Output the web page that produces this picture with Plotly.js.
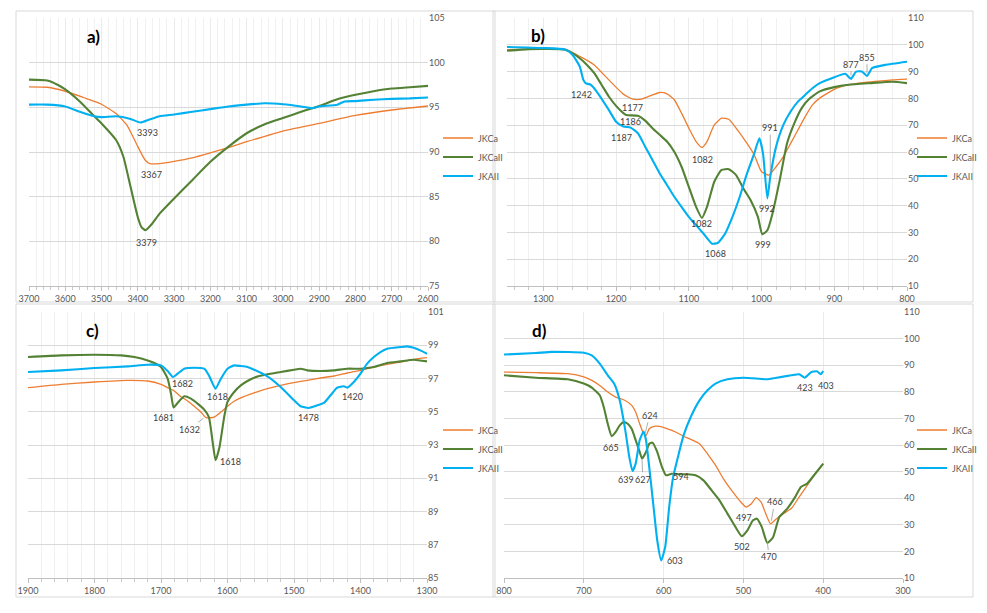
<!DOCTYPE html>
<html>
<head>
<meta charset="utf-8">
<script src="https://cdn.plot.ly/plotly-3.0.1.min.js"></script>
<style>html,body{margin:0;padding:0;background:#fff;}#chart{width:987px;height:613px;}</style>
</head>
<body>
<div id="chart"></div>
<script>
// ---------- Panel a (3700-2600 cm-1) ----------
const aCaX = [3700,3650,3600,3550,3500,3460,3430,3400,3380,3367,3340,3300,3250,3200,3150,3100,3000,2900,2800,2700,2600];
const aCaY = [97.3,97.25,96.8,96.1,95.35,94.3,93.0,90.6,89.1,88.7,88.7,88.95,89.35,89.9,90.5,91.15,92.35,93.2,94.1,94.7,95.15];
const aCaIIX = [3700,3650,3620,3600,3560,3520,3500,3460,3440,3420,3400,3390,3379,3360,3340,3300,3250,3200,3150,3100,3050,3000,2950,2900,2850,2800,2750,2700,2650,2600];
const aCaIIY = [98.1,98.0,97.5,97.0,95.65,94.0,93.2,91.35,89.5,86.1,82.7,81.6,81.25,82.0,83.1,84.8,86.85,88.9,90.6,92.1,93.1,93.8,94.5,95.15,95.9,96.4,96.8,97.1,97.25,97.4];
const aAIIX = [3700,3650,3600,3560,3520,3500,3460,3420,3393,3370,3340,3300,3250,3200,3150,3100,3050,3000,2950,2920,2900,2850,2830,2800,2750,2700,2650,2600];
const aAIIY = [95.3,95.3,95.1,94.5,94.0,93.9,94.0,93.7,93.3,93.6,94.0,94.2,94.5,94.8,95.1,95.3,95.45,95.35,95.1,94.9,95.1,95.3,95.65,95.7,95.85,95.95,96.0,96.1];
const aLabels = [["3393",3373,92.2],["3367",3362,87.5],["3379",3377,79.9]];

// ---------- Panel b (1350-800 cm-1) ----------
const bCaX = [1350,1270,1250,1230,1210,1190,1177,1165,1150,1140,1130,1120,1110,1100,1090,1082,1075,1065,1055,1045,1035,1020,1010,1000,990,980,970,960,950,940,930,920,900,880,860,840,820,800];
const bCaY = [98.2,98.2,95.7,92.5,86.9,81.6,79.7,79.7,81.3,82.2,81.7,79.5,74.5,68.9,63.9,61.7,63.9,70.1,72.6,72.2,68.9,63.2,58.9,52.6,51.4,54.5,58.3,63.2,68.2,73.2,77.6,80.1,83.4,85.1,85.9,86.4,86.9,87.2];
const bCaIIX = [1350,1320,1270,1260,1250,1240,1230,1220,1210,1200,1190,1186,1170,1160,1150,1140,1130,1120,1110,1100,1090,1082,1075,1065,1055,1045,1035,1025,1015,1005,999,992,985,975,965,955,945,935,920,900,880,850,820,800];
const bCaIIY = [97.8,98.4,98.2,96.9,95.0,92.5,89.4,85.1,80.7,77.2,74.5,73.8,73.5,71.7,68.9,66.4,63.9,60.1,54.5,47.0,39.5,35.4,39.5,48.9,53.3,53.6,51.4,46.4,42.0,35.8,29.3,30.8,37.0,49.5,63.2,70.7,76.3,79.7,82.6,84.2,85.1,85.7,86.2,85.7];
const bAIIX = [1350,1300,1270,1260,1250,1245,1242,1235,1225,1210,1200,1190,1180,1170,1160,1150,1140,1130,1120,1110,1100,1090,1080,1068,1060,1050,1040,1030,1020,1010,1003,998,992,988,980,970,960,950,940,930,920,900,885,877,870,862,855,848,830,800];
const bAIIY = [99.2,98.8,98.2,96.3,91.9,86.9,85.7,85.1,81.9,75.7,71.3,69.5,69.1,67.0,62.0,57.0,52.0,47.7,43.3,39.5,35.8,32.7,29.6,25.8,26.1,29.6,35.8,43.3,52.0,59.5,65.1,59.5,42.7,50.8,62.0,70.1,75.1,78.8,81.3,83.8,85.7,87.9,89.2,87.3,90.0,90.0,88.4,91.3,92.5,93.7];
const bLabels = [["1242",1247,81.6],["1177",1178,76.6],["1186",1180,71.3],["1187",1192,65.5],["1082",1081,57.3],["1082",1083,33.3],["1068",1064,22.1],["999",998,25.6],["992",993,39.1]];
const bLeaders = [["991",988,52.5,988,69.1],["877",877,88.5,877,92.8],["855",855,89.5,855,95.4]];

// ---------- Panel c (1900-1300 cm-1) ----------
const cCaX = [1900,1850,1800,1750,1720,1700,1690,1680,1670,1660,1650,1640,1632,1620,1610,1600,1590,1580,1560,1540,1520,1500,1480,1460,1440,1420,1400,1380,1360,1340,1320,1300];
const cCaY = [96.45,96.65,96.79,96.89,96.85,96.65,96.45,96.25,95.9,95.65,95.33,94.98,94.64,94.68,94.98,95.33,95.63,95.83,96.13,96.39,96.59,96.75,96.89,97.03,97.15,97.33,97.49,97.69,97.85,97.99,98.15,98.25];
const cCaIIX = [1900,1850,1800,1760,1740,1720,1710,1700,1690,1685,1681,1675,1665,1655,1645,1635,1628,1622,1618,1612,1605,1600,1590,1580,1570,1560,1540,1520,1500,1490,1480,1460,1440,1420,1400,1380,1360,1340,1320,1300];
const cCaIIY = [98.29,98.39,98.43,98.39,98.29,98.09,97.93,97.69,96.99,96.09,95.25,95.53,95.93,95.79,95.49,95.13,94.68,93.08,92.08,92.88,94.68,95.59,96.19,96.59,96.85,97.05,97.25,97.39,97.53,97.59,97.49,97.45,97.49,97.59,97.59,97.69,97.93,98.03,98.13,98.03];
const cAIIX = [1900,1850,1800,1750,1720,1700,1690,1682,1675,1665,1650,1635,1628,1618,1610,1600,1590,1580,1570,1560,1540,1520,1500,1490,1478,1465,1455,1445,1435,1425,1420,1410,1400,1390,1380,1370,1360,1340,1330,1320,1310,1300];
const cAIIY = [97.39,97.49,97.63,97.73,97.83,97.79,97.45,97.09,97.29,97.59,97.65,97.59,97.19,96.39,96.99,97.59,97.79,97.75,97.69,97.53,97.13,96.49,95.69,95.33,95.23,95.39,95.53,95.99,96.45,96.53,96.45,96.79,97.29,97.89,98.29,98.59,98.79,98.89,98.93,98.85,98.69,98.49];
const cLabels = [["1682",1667.6,96.69],["1618",1614.8,95.93],["1681",1696,94.68],["1618",1596,92.0],["1478",1477.8,94.66],["1420",1412.5,95.93]];
const cLeaders = [["1632",1636,94.62,1657.5,93.94]];

// ---------- Panel d (800-300 cm-1) ----------
const dCaX = [800,760,720,700,690,680,670,660,650,640,635,630,626,622,618,612,605,595,585,575,565,555,545,535,525,515,505,497,490,484,478,472,466,460,450,440,430,420,410,403,400];
const dCaY = [87.4,87.2,86.8,85.6,84.3,82.4,79.9,78.0,77.0,74.9,72.4,68.0,64.9,63.6,66.1,67.0,67.0,66.1,64.9,63.3,62.0,60.5,56.7,52.4,47.3,43.0,39.2,36.7,37.9,40.2,38.6,34.2,30.4,31.9,34.2,36.1,40.5,44.8,49.2,51.7,53.0];
const dCaIIX = [800,760,720,700,690,680,675,670,665,660,655,650,645,640,635,630,627,622,618,614,608,602,597,590,580,570,560,550,540,530,520,510,502,495,488,483,477,470,463,455,445,435,428,420,410,400];
const dCaIIY = [86.2,85.3,84.7,83.1,81.6,78.7,74.3,68.0,63.3,64.9,67.4,68.6,68.0,66.1,61.8,57.4,54.9,57.4,60.5,60.9,57.4,51.7,48.6,49.2,49.0,49.0,48.6,46.7,43.0,39.2,34.2,29.2,25.7,27.9,31.7,32.3,29.2,23.2,25.2,32.9,36.1,40.5,44.2,45.5,49.2,53.0];
const dAIIX = [800,760,740,700,690,680,670,662,655,648,643,639,635,630,625,622,618,613,608,603,598,593,588,582,575,565,555,545,535,520,500,480,470,460,440,430,423,415,408,403,400];
const dAIIY = [94.0,94.6,95.0,94.7,93.7,90.6,86.2,83.1,76.8,65.5,55.5,50.2,53.0,61.8,65.1,61.8,51.7,37.9,24.2,16.6,21.7,36.7,48.0,55.5,63.6,71.2,76.8,80.6,83.1,84.7,85.3,84.9,84.7,85.2,86.2,86.6,85.3,87.4,87.7,86.6,87.8];
const dLabels = [["665",666,59.2],["639",647.5,47.1],["594",577.8,48.3],["603",586,16.4],["497",499.7,32.7],["502",501.8,21.9],["423",422.8,81.8],["403",397,82.4]];
const dLeaders = [["627",627,54.5,626,47.1],["624",623,64.5,617.5,71.2],["466",465,31.5,460.8,38.6],["470",470,23.5,467.9,17.9]];

const seriesNames = ["JKCa","JKCaII","JKAII"];
const panelTags = ["a)","b)","c)","d)"];

// ---------- styling / layout ----------
const colors = ["#ED7D31","#548235","#00B0F0"];
const widths = [1.3,2.1,2.1];
const FONT = "Lato, 'Liberation Sans', sans-serif";
const W = 987, H = 613;
const px = v => v / W;
const py = v => 1 - v / H;

const panels = [
  {xs:"x",  ys:"y",  leg:"legend",  data:[[aCaX,aCaY],[aCaIIX,aCaIIY],[aAIIX,aAIIY]], labels:aLabels, leaders:[]},
  {xs:"x2", ys:"y2", leg:"legend2", data:[[bCaX,bCaY],[bCaIIX,bCaIIY],[bAIIX,bAIIY]], labels:bLabels, leaders:bLeaders},
  {xs:"x3", ys:"y3", leg:"legend3", data:[[cCaX,cCaY],[cCaIIX,cCaIIY],[cAIIX,cAIIY]], labels:cLabels, leaders:cLeaders},
  {xs:"x4", ys:"y4", leg:"legend4", data:[[dCaX,dCaY],[dCaIIX,dCaIIY],[dAIIX,dAIIY]], labels:dLabels, leaders:dLeaders}
];

const traces = [];
const annotations = [];
panels.forEach((p, pi) => {
  p.data.forEach((s, si) => {
    traces.push({
      type:"scatter", mode:"lines", x:s[0], y:s[1], name:seriesNames[si],
      xaxis:p.xs, yaxis:p.ys, legend:p.leg,
      line:{color:colors[si], width:widths[si], shape:"spline", smoothing:0.5},
      hoverinfo:"x+y+name"
    });
  });
  p.labels.forEach(l => annotations.push({
    xref:p.xs, yref:p.ys, x:l[1], y:l[2], text:l[0], showarrow:false,
    font:{family:FONT, size:9, color:"#404040"}
  }));
  p.leaders.forEach(l => annotations.push({
    xref:p.xs, yref:p.ys, axref:p.xs, ayref:p.ys, x:l[1], y:l[2], ax:l[3], ay:l[4], text:l[0],
    showarrow:true, arrowhead:0, arrowwidth:0.8, arrowcolor:"#9a9a9a", standoff:0,
    font:{family:FONT, size:9, color:"#404040"}
  }));
});

const tagPos = [[93,37],[538,35],[92,330],[539,330]];
tagPos.forEach((t, i) => annotations.push({
  xref:"paper", yref:"paper", x:px(t[0]), y:py(t[1]), xanchor:"center", yanchor:"middle",
  text:"<b>"+panelTags[i]+"</b>",
  showarrow:false, font:{family:FONT, size:17, color:"#000"}
}));

function xax(dom, range, anchor, minorDt, showMinorGrid) {
  const a = {
    domain:dom, range:range, anchor:anchor, dtick:100, tick0:0,
    showgrid:true, gridcolor:"#e6e6e6", gridwidth:0.8,
    showline:true, linecolor:"#bfbfbf", linewidth:1,
    ticks:"outside", ticklen:4, tickcolor:"#bfbfbf", zeroline:false,
    tickfont:{family:FONT, size:9, color:"#595959"}, fixedrange:true
  };
  if (minorDt) a.minor = {dtick:minorDt, tick0:0, ticks:"outside", ticklen:3, tickcolor:"#c8c8c8", showgrid:showMinorGrid, gridcolor:"#ededed", gridwidth:0.8};
  return a;
}
function yax(dom, range, dt, t0, anchor) {
  return {
    domain:dom, range:range, dtick:dt, tick0:t0, anchor:anchor, side:"right",
    showgrid:true, gridcolor:"#d9d9d9", gridwidth:1, showline:false, zeroline:false,
    ticks:"", tickfont:{family:FONT, size:9, color:"#595959"}, fixedrange:true
  };
}
function leg(x, y) {
  return {x:px(x), y:py(y), xanchor:"left", yanchor:"middle", bgcolor:"rgba(0,0,0,0)",
    font:{family:FONT, size:9, color:"#595959"}, itemwidth:30, traceorder:"normal", tracegroupgap:0};
}

const topDom = [py(286), py(18)];
const botDom = [py(578), py(312)];

const boxes = [[16,11,495,302],[493,11,973,302],[16,304,495,597],[493,304,973,597]];
const shapes = boxes.map(b => ({type:"rect", xref:"paper", yref:"paper",
  x0:px(b[0]), y0:py(b[1]), x1:px(b[2]), y1:py(b[3]), line:{color:"#d9d9d9", width:1}, layer:"below"}));

const layout = {
  width:W, height:H, autosize:false,
  margin:{l:0, r:0, t:0, b:0},
  paper_bgcolor:"#ffffff", plot_bgcolor:"rgba(0,0,0,0)",
  font:{family:FONT, size:9, color:"#595959"},
  xaxis:  xax([px(29),  px(428)], [3700,2600], "y",  20, true),
  yaxis:  yax(topDom, [75,105], 5, 75, "x"),
  xaxis2: xax([px(507), px(907)], [1350,800],  "y2", 20, true),
  yaxis2: yax(topDom, [10,110], 10, 10, "x2"),
  xaxis3: xax([px(28),  px(427)], [1900,1300], "y3", 20, true),
  yaxis3: yax(botDom, [85,101], 2, 85, "x3"),
  xaxis4: xax([px(504), px(903)], [800,300],   "y4", null, false),
  yaxis4: yax(botDom, [10,110], 10, 10, "x4"),
  legend:  leg(438, 157),
  legend2: leg(912, 157),
  legend3: leg(438, 449),
  legend4: leg(912, 449),
  showlegend:true,
  annotations:annotations,
  shapes:shapes
};

Plotly.newPlot("chart", traces, layout, {displayModeBar:false, staticPlot:true});
</script>
</body>
</html>
